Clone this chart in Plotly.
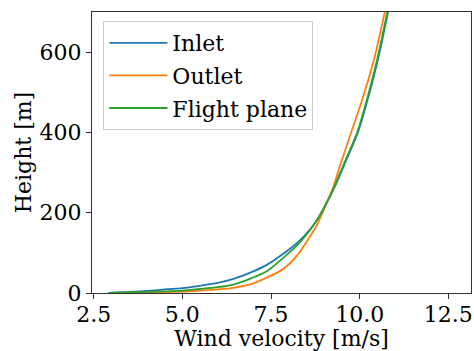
import plotly.graph_objects as go

# Heights [m] and wind velocities [m/s]
inlet_h = [0.5, 2.5, 6, 12, 18, 25, 35, 50, 70, 104, 130, 158, 186, 218, 265, 318, 400, 480, 580, 700, 760]
inlet_u = [2.91, 3.5, 4.09, 5.0, 5.5, 6.0, 6.44, 6.90, 7.38, 7.94, 8.30, 8.60, 8.83, 9.03, 9.30, 9.56, 9.95, 10.22, 10.51, 10.80, 10.93]

outlet_h = [0.3, 1.5, 3.5, 6, 9, 13, 24, 40, 52, 68, 95, 141, 170, 218, 265, 318, 400, 470, 580, 700, 760]
outlet_u = [3.0, 4.0, 5.0, 5.5, 6.0, 6.44, 7.0, 7.42, 7.70, 7.96, 8.25, 8.60, 8.80, 9.04, 9.26, 9.45, 9.76, 10.03, 10.40, 10.71, 10.85]

flight_h = [0.3, 3, 6, 10, 14.5, 21, 35, 54, 95, 125, 157, 186, 218, 265, 318, 400, 480, 580, 700, 760]
flight_u = [2.95, 4.0, 5.0, 5.5, 6.0, 6.44, 6.90, 7.38, 7.94, 8.30, 8.60, 8.83, 9.03, 9.29, 9.54, 9.93, 10.20, 10.49, 10.78, 10.91]

series = [
    ("Inlet", inlet_u, inlet_h, "#1f77b4"),
    ("Outlet", outlet_u, outlet_h, "#ff7f0e"),
    ("Flight plane", flight_u, flight_h, "#2ca02c"),
]

font_family = "DejaVu Serif, Liberation Serif, serif"
fs = 22

fig = go.Figure()
for i, (name, u, h, c) in enumerate(series):
    fig.add_trace(go.Scatter(
        x=u, y=h, mode="lines", name=name,
        line=dict(color=c, width=1.8, shape="spline", smoothing=0.6),
        legendgroup=f"g{i}",
    ))

axis_common = dict(
    showgrid=False, zeroline=False, automargin=False,
    showline=True, linecolor="#333333", linewidth=1, mirror=True,
    ticks="outside", ticklen=5, tickwidth=1, tickcolor="#333333",
    tickfont=dict(family=font_family, size=fs, color="black"),
)

fig.update_layout(
    width=474, height=351,
    margin=dict(l=92, r=3, t=12, b=58, autoexpand=False),
    paper_bgcolor="white", plot_bgcolor="white",
    font=dict(family=font_family, size=fs, color="black"),
    showlegend=True,
    legend=dict(
        x=0.03, y=0.968, xanchor="left", yanchor="top",
        bgcolor="rgba(255,255,255,0.8)", bordercolor="#cccccc", borderwidth=1,
        font=dict(family=font_family, size=fs, color="black"),
        tracegroupgap=1, itemwidth=58,
    ),
    xaxis=dict(
        range=[2.452, 13.14],
        tickvals=[2.5, 5.0, 7.5, 10.0, 12.5],
        ticktext=["2.5", "5.0", "7.5", "10.0", "12.5"],
        ticklabelstandoff=-3,
        title=dict(text="Wind velocity [m/s]", font=dict(family=font_family, size=fs), standoff=6),
        **axis_common,
    ),
    yaxis=dict(
        range=[0, 700],
        tickvals=[0, 200, 400, 600],
        title=dict(text="Height [m]", font=dict(family=font_family, size=fs), standoff=1),
        **axis_common,
    ),
)

fig.write_html("out.html")
